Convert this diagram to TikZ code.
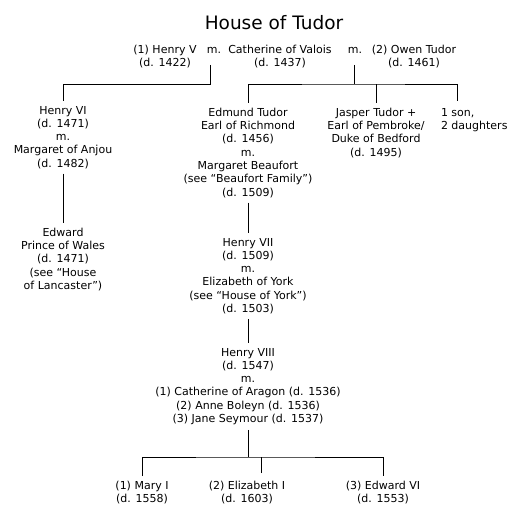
\documentclass[tikz,border=0pt]{standalone}
\usepackage{fontspec}
\setmainfont{DejaVu Sans}
\usepackage{tikz}
\usetikzlibrary{positioning,calc}
\tikzset{
  person/.style={align=center, inner sep=0pt, outer sep=5pt, font=\fontsize{11}{13.3}\selectfont},
  kids/.style={align=left, inner sep=0pt, outer sep=5pt, font=\fontsize{11}{13.3}\selectfont},
  wed/.style={inner sep=0pt, font=\fontsize{11}{13.3}\selectfont},
  heading/.style={inner sep=0pt, font=\fontsize{18.5}{20}\selectfont},
  link/.style={line width=0.8pt}
}
\begin{document}
\begin{tikzpicture}[x=1pt, y=-1pt]
  \useasboundingbox (0,0) rectangle (518,521);
  \node[heading] (title) at (274,23) {House of Tudor};
  % first generation
  \node[person, anchor=north] (henryv) at (165,40) {(1) Henry V\\(d. 1422)};
  \node[wed, anchor=base] (m1) at (214,54) {m.};
  \node[person, anchor=north] (cath) at (280,40) {Catherine of Valois\\(d. 1437)};
  \node[wed, anchor=base] (m2) at (355,54) {m.};
  \node[person, anchor=north] (owen) at (414,40) {(2) Owen Tudor\\(d. 1461)};
  \coordinate (mar1) at (210,65);
  \coordinate (bar1) at (210,84);
  \coordinate (mar2) at (354,65);
  \coordinate (bar2) at (354,84);
  % children of Catherine
  \node[person, anchor=north] (henryvi) at (63,101) {Henry VI\\(d. 1471)\\m.\\Margaret of Anjou\\(d. 1482)};
  \node[person, anchor=north] (edward) at (63,223) {Edward\\Prince of Wales\\(d. 1471)\\(see ``House\\of Lancaster'')};
  \node[person, anchor=north] (edmund) at (248,103) {Edmund Tudor\\Earl of Richmond\\(d. 1456)\\m.\\Margaret Beaufort\\(see ``Beaufort Family'')\\(d. 1509)};
  \node[person, anchor=north] (jasper) at (376,103) {Jasper Tudor +\\Earl of Pembroke/\\Duke of Bedford\\(d. 1495)};
  \node[kids, anchor=north west] (sons) at (436,103) {1 son,\\2 daughters};
  \coordinate (sonsdrop) at (457,101);
  % main line
  \node[person, anchor=north] (henryvii) at (248,233) {Henry VII\\(d. 1509)\\m.\\Elizabeth of York\\(see ``House of York'')\\(d. 1503)};
  \node[person, anchor=north] (henryviii) at (248,343) {Henry VIII\\(d. 1547)\\m.\\(1) Catherine of Aragon (d. 1536)\\(2) Anne Boleyn (d. 1536)\\(3) Jane Seymour (d. 1537)};
  \coordinate (bar3) at (248,457);
  \node[person, anchor=north] (mary) at (142,476) {(1) Mary I\\(d. 1558)};
  \node[person, anchor=north] (eliz) at (247,476) {(2) Elizabeth I\\(d. 1603)};
  \node[person, anchor=north] (edwardvi) at (383,476) {(3) Edward VI\\(d. 1553)};
  \coordinate (elizdrop) at (261,473);
  % connectors
  \draw[link] (mar1) -- (bar1) -| (henryvi.north);
  \draw[link] (mar2) -- (bar2);
  \draw[link] (edmund.north) |- (bar2) -| (sonsdrop);
  \draw[link] (jasper.north) -- (jasper.north |- bar2);
  \draw[link] (henryvi.south) -- (edward.north);
  \draw[link] (edmund.south) -- (henryvii.north);
  \draw[link] (henryvii.south) -- (henryviii.north);
  \draw[link] (henryviii.south) -- (bar3);
  \draw[link] (mary.north) |- (bar3) -| (edwardvi.north);
  \draw[link] (elizdrop) -- (elizdrop |- bar3);
\end{tikzpicture}
\end{document}
